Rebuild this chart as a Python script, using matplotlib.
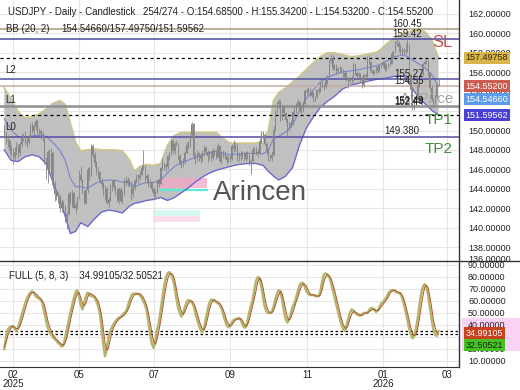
import matplotlib
matplotlib.use("Agg")
import matplotlib.pyplot as plt
from matplotlib.patches import Polygon, Rectangle
from matplotlib.lines import Line2D
from matplotlib.transforms import blended_transform_factory
import numpy as np

plt.rcParams['font.family'] = ['Liberation Sans', 'DejaVu Sans']

# ---------------- data ----------------
opens = [
 150.0, 149.5, 149.0, 148.9, 147.9, 148.0, 147.3, 147.8, 148.2, 147.7,
 148.6, 149.2, 149.3, 148.7, 148.8, 149.3, 150.6, 149.9, 150.5, 151.0,
 149.8, 149.9, 149.6, 149.3, 146.9, 146.1, 147.8, 146.3, 147.7, 144.4,
 143.5, 143.1, 143.2, 142.0, 142.5, 142.2, 140.9, 141.4, 143.5, 142.6,
 143.6, 142.0, 142.3, 143.1, 145.4, 144.9, 143.7, 142.5, 143.9, 145.9,
 145.4, 148.4, 147.5, 146.7, 145.7, 145.7, 144.8, 144.5, 143.7, 144.0,
 142.5, 142.8, 144.3, 144.8, 144.2, 144.0, 142.7, 144.0, 142.7, 143.6,
 144.8, 144.6, 144.9, 144.6, 143.5, 144.1, 144.8, 145.3, 145.1, 145.4,
 146.1, 146.1, 145.0, 145.3, 144.5, 144.6, 144.0, 143.5, 143.8, 144.9,
 144.5, 146.1, 146.6, 146.3, 146.2, 147.4, 147.7, 148.9, 147.9, 148.6,
 148.8, 147.4, 146.6, 146.5, 146.9, 147.7, 148.5, 148.5, 149.5, 150.7,
 147.4, 147.1, 147.7, 147.4, 147.1, 147.7, 148.2, 147.8, 147.4, 147.8,
 147.2, 147.9, 147.7, 147.3, 148.4, 146.9, 147.8, 147.4, 147.4, 147.0,
 147.0, 147.1, 148.4, 148.1, 148.5, 147.4, 147.5, 147.4, 147.5, 147.1,
 147.7, 147.4, 146.5, 146.9, 148.0, 148.0, 147.7, 147.7, 148.9, 149.8,
 149.5, 148.6, 147.9, 147.1, 147.2, 147.5, 150.1, 152.0, 152.7, 153.0,
 151.2, 152.3, 151.8, 151.1, 150.4, 150.6, 150.8, 151.9, 152.0, 152.6,
 152.9, 152.1, 152.1, 152.7, 154.1, 154.0, 154.2, 153.6, 153.9, 153.1,
 153.4, 154.2, 154.1, 155.0, 154.6, 154.5, 155.2, 155.5, 157.2, 157.5,
 156.4, 156.7, 156.1, 156.3, 156.3, 156.2, 155.5, 155.9, 155.3, 155.1,
 155.3, 155.2, 156.9, 155.9, 155.6, 155.8, 155.3, 154.7, 155.7, 155.6,
 157.6, 157.1, 156.1, 155.9, 156.0, 156.5, 156.1, 156.7, 156.7, 157.0,
 156.3, 156.6, 156.8, 156.9, 157.9, 158.1, 159.1, 159.0, 158.6, 158.1,
 158.1, 158.2, 158.3, 158.4, 155.7, 154.2, 152.2, 153.4, 153.1, 154.7,
 155.6, 155.8, 156.9, 157.1, 157.2, 155.9, 154.4, 153.2, 152.7, 153.5,
 154.685]
highs = [
 150.6, 149.9, 149.5, 149.1, 148.5, 148.2, 148.3, 148.8, 148.6, 148.8,
 149.6, 149.7, 150.0, 149.2, 149.5, 150.8, 150.9, 150.7, 151.2, 151.1,
 150.3, 150.2, 150.0, 149.4, 147.3, 148.0, 148.1, 148.2, 147.9, 144.8,
 143.9, 143.8, 143.5, 142.9, 142.7, 142.3, 141.6, 143.7, 143.8, 143.9,
 143.7, 142.6, 143.3, 145.9, 146.3, 145.0, 143.9, 144.0, 146.2, 146.2,
 148.6, 148.6, 147.8, 146.9, 146.2, 145.8, 145.1, 144.7, 144.4, 144.2,
 143.1, 144.5, 144.9, 145.0, 144.4, 144.1, 144.2, 144.2, 143.9, 145.1,
 145.3, 145.2, 145.0, 144.8, 144.5, 145.0, 145.5, 145.5, 145.8, 146.4,
 148.0, 146.4, 145.5, 145.5, 145.0, 144.8, 144.2, 144.0, 145.0, 145.1,
 146.2, 147.2, 146.8, 146.7, 147.5, 147.8, 149.1, 149.1, 148.8, 149.0,
 148.8, 147.6, 147.0, 147.2, 147.9, 148.8, 148.9, 149.6, 150.9, 150.8,
 147.7, 148.0, 147.8, 147.7, 148.0, 148.5, 148.4, 148.0, 147.9, 148.0,
 148.2, 148.1, 148.0, 148.7, 148.5, 147.9, 148.0, 147.9, 147.5, 147.4,
 147.5, 148.6, 149.0, 148.8, 148.6, 147.8, 147.9, 147.9, 147.8, 147.9,
 147.9, 147.6, 147.1, 148.3, 148.3, 148.3, 148.1, 149.2, 149.9, 149.9,
 149.7, 148.8, 148.1, 147.6, 147.9, 150.5, 152.1, 152.9, 153.2, 153.1,
 152.6, 152.6, 151.9, 151.3, 150.9, 151.1, 152.0, 152.4, 152.8, 153.2,
 153.0, 152.5, 153.0, 154.3, 154.4, 154.5, 154.4, 154.1, 154.0, 153.6,
 154.3, 154.5, 155.1, 155.1, 154.8, 155.4, 155.7, 157.3, 157.9, 157.8,
 156.9, 156.9, 156.5, 156.6, 156.5, 156.3, 156.1, 156.0, 155.5, 155.5,
 155.6, 157.0, 157.0, 156.1, 156.0, 155.9, 155.5, 155.8, 155.9, 157.7,
 157.8, 157.2, 156.3, 156.2, 156.6, 156.7, 156.9, 156.9, 157.2, 157.1,
 156.8, 157.0, 157.3, 158.2, 158.2, 159.2, 159.4, 159.2, 158.9, 158.6,
 158.5, 159.0, 159.4, 158.9, 155.9, 154.4, 153.6, 153.8, 154.9, 155.7,
 156.0, 157.0, 157.3, 157.4, 157.3, 156.0, 154.7, 153.5, 153.7, 154.9,
 155.342]
lows = [
 149.2, 148.6, 148.3, 147.6, 147.4, 146.5, 147.0, 147.5, 147.2, 147.4,
 148.3, 148.9, 148.5, 148.2, 148.6, 149.2, 149.7, 149.5, 150.2, 149.6,
 149.5, 149.1, 148.9, 146.5, 145.0, 144.6, 145.9, 145.4, 144.1, 142.7,
 142.8, 142.5, 141.6, 141.6, 141.9, 140.6, 139.9, 141.3, 142.4, 142.1,
 141.9, 141.5, 141.9, 142.9, 144.7, 143.5, 142.4, 142.4, 143.6, 144.9,
 145.3, 147.2, 146.2, 145.4, 145.1, 144.6, 144.1, 143.3, 142.8, 142.4,
 142.1, 142.7, 143.8, 143.9, 143.4, 142.6, 142.4, 142.6, 142.5, 143.4,
 144.3, 144.3, 144.2, 142.8, 143.1, 143.9, 144.6, 144.6, 144.9, 145.3,
 145.9, 144.8, 144.6, 144.2, 144.2, 143.7, 142.9, 143.2, 143.6, 144.2,
 144.4, 145.9, 145.9, 145.8, 146.0, 147.0, 147.5, 147.6, 147.6, 148.4,
 147.1, 146.4, 146.1, 146.2, 146.6, 147.6, 148.1, 148.3, 149.2, 147.1,
 146.6, 146.9, 146.9, 146.7, 146.9, 147.4, 147.6, 146.8, 147.1, 146.9,
 147.0, 147.4, 147.1, 147.2, 146.8, 146.5, 147.2, 147.1, 146.6, 146.8,
 146.8, 147.0, 147.8, 147.9, 146.8, 146.9, 146.9, 147.2, 146.9, 146.9,
 147.1, 146.4, 145.5, 146.8, 147.7, 147.5, 147.3, 147.6, 148.7, 149.1,
 148.5, 147.6, 146.9, 146.9, 146.9, 147.4, 149.9, 151.8, 152.3, 151.0,
 151.1, 151.5, 150.9, 149.4, 149.9, 150.3, 150.6, 151.6, 151.8, 152.4,
 151.9, 151.7, 151.9, 152.5, 153.7, 153.8, 153.4, 153.4, 152.9, 152.9,
 153.3, 153.8, 154.0, 154.4, 154.2, 154.4, 154.8, 155.3, 157.0, 156.2,
 156.2, 155.8, 155.9, 156.0, 155.9, 155.3, 155.4, 155.1, 154.4, 154.9,
 154.9, 155.1, 155.7, 155.4, 155.3, 155.1, 154.4, 154.5, 155.3, 155.5,
 156.9, 155.9, 155.7, 155.8, 155.9, 155.9, 156.0, 156.4, 156.5, 156.1,
 156.1, 156.4, 156.6, 156.8, 157.6, 158.0, 158.7, 158.1, 157.9, 157.8,
 157.9, 157.9, 158.1, 155.6, 153.3, 152.1, 152.1, 152.6, 152.9, 154.5,
 155.2, 155.6, 156.7, 156.8, 155.6, 154.2, 153.0, 152.4, 152.5, 153.3,
 154.532]
closes = [
 149.5, 149.0, 148.9, 147.9, 148.0, 147.3, 147.8, 148.2, 147.7, 148.6,
 149.2, 149.3, 148.7, 148.8, 149.3, 150.6, 149.9, 150.5, 151.0, 149.8,
 149.9, 149.6, 149.3, 146.9, 146.1, 147.8, 146.3, 147.7, 144.4, 143.5,
 143.1, 143.2, 142.0, 142.5, 142.2, 140.9, 141.4, 143.5, 142.6, 143.6,
 142.0, 142.3, 143.1, 145.4, 144.9, 143.7, 142.5, 143.9, 145.9, 145.4,
 148.4, 147.5, 146.7, 145.7, 145.7, 144.8, 144.5, 143.7, 144.0, 142.5,
 142.8, 144.3, 144.8, 144.2, 144.0, 142.7, 144.0, 142.7, 143.6, 144.8,
 144.6, 144.9, 144.6, 143.5, 144.1, 144.8, 145.3, 145.1, 145.4, 146.1,
 146.1, 145.0, 145.3, 144.5, 144.6, 144.0, 143.5, 143.8, 144.9, 144.5,
 146.1, 146.6, 146.3, 146.2, 147.4, 147.7, 148.9, 147.9, 148.6, 148.8,
 147.4, 146.6, 146.5, 146.9, 147.7, 148.5, 148.5, 149.5, 150.7, 147.4,
 147.1, 147.7, 147.4, 147.1, 147.7, 148.2, 147.8, 147.4, 147.8, 147.2,
 147.9, 147.7, 147.3, 148.4, 146.9, 147.8, 147.4, 147.4, 147.0, 147.0,
 147.1, 148.4, 148.1, 148.5, 147.4, 147.5, 147.4, 147.5, 147.1, 147.7,
 147.4, 146.5, 146.9, 148.0, 148.0, 147.7, 147.7, 148.9, 149.8, 149.5,
 148.6, 147.9, 147.1, 147.2, 147.5, 150.1, 152.0, 152.7, 153.0, 151.2,
 152.3, 151.8, 151.1, 150.4, 150.6, 150.8, 151.9, 152.0, 152.6, 152.9,
 152.1, 152.1, 152.7, 154.1, 154.0, 154.2, 153.6, 153.9, 153.1, 153.4,
 154.2, 154.1, 155.0, 154.6, 154.5, 155.2, 155.5, 157.2, 157.5, 156.4,
 156.7, 156.1, 156.3, 156.3, 156.2, 155.5, 155.9, 155.3, 155.1, 155.3,
 155.2, 156.9, 155.9, 155.6, 155.8, 155.3, 154.7, 155.7, 155.6, 157.6,
 157.1, 156.1, 155.9, 156.0, 156.5, 156.1, 156.7, 156.7, 157.0, 156.3,
 156.6, 156.8, 156.9, 157.9, 158.1, 159.1, 159.0, 158.6, 158.1, 158.1,
 158.2, 158.3, 158.4, 155.7, 154.2, 152.2, 153.4, 153.1, 154.7, 155.6,
 155.8, 156.9, 157.1, 157.2, 155.9, 154.4, 153.2, 152.7, 153.5, 154.7,
 154.552]

# Bollinger band edges read at sample bars
band_x = [0, 4, 8, 12, 16, 20, 24, 28, 32, 35, 38, 41, 44, 48, 52, 56, 60, 64, 68, 72,
          75, 78, 82, 86, 90, 94, 98, 102, 106, 110, 114, 118, 122, 126, 130, 135, 140,
          145, 149, 152, 155, 158, 162, 166, 170, 174, 178, 182, 186, 190, 195, 200, 205,
          210, 215, 220, 225, 230, 234, 238, 242, 246, 250]
bb_upper = [154.4, 153.2, 151.9, 151.3, 151.4, 151.7, 152.2, 152.8, 153.1, 152.7, 150.8,
            148.8, 147.9, 148.0, 148.1, 148.0, 148.0, 148.0, 147.9, 147.0, 145.8, 146.3,
            146.5, 146.4, 146.6, 148.5, 149.5, 149.8, 149.8, 149.8, 149.8, 149.8, 149.8,
            149.2, 148.7, 148.7, 148.7, 148.7, 148.8, 150.0, 153.1, 153.9, 154.4, 155.0,
            155.6, 156.3, 157.0, 157.6, 158.0, 158.0, 157.8, 157.6, 157.7, 157.9, 158.1,
            158.9, 159.6, 160.0, 160.2, 160.35, 160.2, 159.4, 157.4975]
bb_lower = [148.0, 146.9, 146.8, 147.3, 147.5, 147.3, 146.6, 144.7, 142.8, 141.2, 139.4,
            139.6, 140.5, 140.1, 140.9, 141.6, 141.8, 141.7, 141.5, 142.2, 142.5, 142.6,
            142.8, 142.9, 143.1, 142.8, 143.1, 143.6, 144.1, 144.7, 145.2, 145.6, 145.9,
            146.1, 146.3, 146.5, 146.6, 146.6, 146.4, 145.8, 145.3, 144.9, 145.3, 146.2,
            148.5, 150.3, 151.4, 152.4, 153.0, 153.5, 154.3, 154.7, 154.9, 155.1, 155.3,
            155.4, 155.6, 155.6, 154.6, 153.5, 152.8, 152.1, 151.59562]

# Full stochastic (5, 8, 3), one reading per bar
stoch_k = [
 20, 30, 36, 38, 39, 39, 37, 35, 38, 43, 48, 53, 58, 62, 65, 67, 68, 67, 64, 63,
 62, 61, 58, 51, 44, 38, 34, 32, 30, 28, 27, 25, 24, 22, 23, 29, 36, 43, 50, 56,
 62, 67, 69, 64, 57, 53, 58, 64, 67, 66, 64, 64, 63, 60, 56, 50, 38, 24, 14, 20,
 30, 35, 38, 41, 43, 45, 46, 47, 48, 50, 51, 55, 60, 64, 66, 66, 66, 66, 65, 63,
 60, 57, 52, 42, 32, 24, 21, 27, 36, 42, 52, 62, 72, 79, 83, 84, 82, 79, 72, 63,
 55, 50, 47, 50, 55, 59, 61, 60, 59, 56, 50, 45, 40, 36, 34, 37, 45, 52, 58, 61,
 61, 60, 59, 58, 57, 54, 49, 44, 40, 38, 40, 42, 44, 45, 45, 46, 45, 41, 38, 38,
 43, 50, 56, 61, 70, 77, 80, 79, 72, 63, 55, 51, 50, 50, 51, 55, 61, 66, 69, 68,
 61, 52, 45, 42, 45, 50, 55, 58, 63, 68, 73, 75, 75, 72, 68, 66, 65, 65, 65, 64,
 64, 64, 68, 76, 82, 83, 82, 80, 76, 70, 64, 58, 52, 46, 41, 37, 35, 39, 45, 50,
 53, 52, 50, 49, 48, 48, 49, 50, 50, 50, 52, 54, 54, 53, 51, 52, 55, 58, 59, 61,
 63, 66, 68, 69, 69, 68, 67, 67, 66, 63, 58, 52, 45, 38, 32, 29, 31, 37, 45, 56,
 66, 72, 74, 72, 65, 55, 45, 37, 32, 31, 34.99105]
stoch_d = [
 22, 25, 31, 35, 38, 39, 38, 37, 37, 39, 43, 48, 53, 58, 62, 65, 67, 67, 66, 65,
 63, 62, 60, 57, 51, 44, 39, 35, 32, 30, 28, 27, 25, 24, 23, 25, 29, 36, 43, 50,
 56, 62, 66, 67, 63, 58, 56, 58, 63, 66, 66, 65, 64, 62, 60, 55, 48, 37, 25, 19,
 21, 28, 34, 38, 41, 43, 45, 46, 47, 48, 50, 52, 55, 60, 63, 65, 66, 66, 66, 65,
 63, 60, 56, 50, 42, 33, 26, 24, 28, 35, 43, 52, 62, 71, 78, 82, 83, 82, 78, 71,
 63, 56, 51, 49, 51, 55, 58, 60, 60, 58, 55, 50, 45, 40, 37, 36, 39, 45, 52, 57,
 60, 61, 60, 59, 58, 56, 53, 49, 44, 41, 39, 40, 42, 44, 45, 45, 45, 44, 41, 39,
 40, 44, 50, 56, 62, 69, 76, 79, 77, 71, 63, 56, 52, 50, 50, 52, 56, 61, 65, 68,
 66, 60, 53, 46, 44, 46, 50, 54, 59, 63, 68, 72, 74, 74, 72, 69, 66, 65, 65, 65,
 64, 64, 65, 69, 76, 80, 82, 81, 79, 75, 70, 64, 58, 52, 46, 41, 38, 37, 40, 45,
 49, 51, 51, 50, 49, 48, 48, 49, 50, 50, 51, 52, 53, 53, 52, 52, 53, 55, 57, 59,
 61, 63, 66, 68, 69, 69, 68, 67, 67, 65, 62, 57, 51, 45, 38, 33, 31, 32, 37, 45,
 55, 64, 71, 73, 71, 64, 55, 45, 38, 34, 32.50521]

levels = [160.45, 159.42, 155.27, 154.55, 152.49, 152.44, 149.38]
level_labels = ['160.45', '159.42', '155.27', '154.55', '152.49', '152.44', '149.380']
bb_last = [154.54660, 157.49758, 151.59562]
stoch_last = [34.99105, 32.50521]

price_ticks = [138, 140, 142, 144, 146, 148, 150, 152, 154, 156, 158, 160, 162]
stoch_ticks = [10, 20, 30, 40, 50, 60, 70, 80, 90]
xtick_pos = [5, 43, 86, 130, 174.5, 218, 254.9]
xtick_labels = ['02\n2025', '05', '07', '09', '11', '01\n2026', '03']

title1 = 'USDJPY - Daily - Candlestick'
title2 = '254/274 - O:154.68500 - H:155.34200 - L:154.53200 - C:154.55200'

# ---------------- figure ----------------
W, H = 520, 390
fig = plt.figure(figsize=(W / 100, H / 100), dpi=100)


def frac(l, t, w, h):
    return [l / W, 1 - (t + h) / H, w / W, h / H]


ax = fig.add_axes(frac(0, 0, 459, 261))
ax2 = fig.add_axes(frac(0, 261, 459, 106), sharex=ax)
XMIN, XMAX = -2.48, 261.8
ax.set_xlim(XMIN, XMAX)
ax.set_ylim(136.56, 163.44)
ax2.set_ylim(5.0, 93.3)

grid_c = '#e6e6e6'
for t in price_ticks:
    ax.axhline(t, color=grid_c, lw=0.8, zorder=0)
for t in stoch_ticks:
    ax2.axhline(t, color=grid_c, lw=0.8, zorder=0)
for t in xtick_pos:
    ax.axvline(t, color=grid_c, lw=0.8, zorder=0)
    ax2.axvline(t, color=grid_c, lw=0.8, zorder=0)

# Bollinger band
pts = list(zip(band_x, bb_upper)) + list(zip(band_x[::-1], bb_lower[::-1]))
ax.add_patch(Polygon(pts, closed=True, fc='#c0c0c0', ec='none', zorder=1))
ax.plot(band_x, bb_upper, color='#cdc688', lw=1.2, zorder=2)
ax.plot(band_x, bb_lower, color='#6a6acc', lw=1.0, zorder=2)
bb_mid = (np.array(bb_upper) + np.array(bb_lower)) / 2
ax.plot(band_x, bb_mid, color='#7686cc', lw=0.8, zorder=2)

# faint ghost labels
ax.add_patch(Rectangle((89.6, 144.1), 27.1, 1.0, fc='#f4a6c6', ec='none', alpha=0.75, zorder=1.5))
ax.plot([89.6, 116.7], [143.9, 143.9], color='#5ee8d8', lw=1.6, zorder=1.5)
ax.add_patch(Rectangle((85.6, 141.2), 27.1, 0.6, fc='#cdf5f0', ec='none', alpha=0.8, zorder=1.5))
ax.add_patch(Rectangle((85.6, 140.6), 27.1, 0.6, fc='#f9d6ea', ec='none', alpha=0.8, zorder=1.5))

# level lines
level_colors = ['#a8987a', '#4a4a9e', '#5252a4', '#c8a8a2', '#8e8e8e', '#8e8e8e', '#5a4aa4']
for lv, c in zip(levels, level_colors):
    ax.axhline(lv, color=c, lw=1.1, zorder=2.2)
for lv in bb_last[1:]:
    ax.axhline(lv, color='black', lw=0.9, ls=(0, (2.5, 2.5)), zorder=2.2)

# text behind candles
ax.text(258.3, 153.24, 'At Price', ha='right', va='center', fontsize=11,
        color='#a4a4a4', zorder=2.5)

# candles
n = len(closes)
xs = np.arange(n)
o = np.array(opens); c = np.array(closes)
bot = np.minimum(o, c)
hgt = np.maximum(np.abs(c - o), 0.06)
candle_c = '#858585'
ax.vlines(xs, lows, highs, color=candle_c, lw=0.6, zorder=3)
ax.bar(xs, hgt, bottom=bot, width=0.55, color=candle_c, lw=0, zorder=3)

# labels on chart
ax.text(232, 160.50, level_labels[0], ha='center', va='bottom', fontsize=7, color='#222', zorder=4)
ax.text(232, 159.47, level_labels[1], ha='center', va='bottom', fontsize=7, color='#222', zorder=4)
ax.text(233, 155.32, level_labels[2], ha='center', va='bottom', fontsize=7, color='#222', zorder=4)
ax.text(233, 154.55, level_labels[3], ha='center', va='bottom', fontsize=7, color='#222', zorder=4)
ax.text(233, 152.53, level_labels[4], ha='center', va='bottom', fontsize=7, color='#222', zorder=4)
ax.text(233, 152.44, level_labels[5], ha='center', va='bottom', fontsize=7, color='#222', zorder=4)
ax.text(229, 149.43, level_labels[6], ha='center', va='bottom', fontsize=7, color='#222', zorder=4)

ax.text(258.3, 159.1, 'SL', ha='right', va='center', fontsize=12, color='#c0504d', zorder=4)
ax.text(258.3, 151.1, 'TP1', ha='right', va='center', fontsize=11, color='#3e8e3a', zorder=4)
ax.text(258.3, 148.1, 'TP2', ha='right', va='center', fontsize=11, color='#3e8e3a', zorder=4)
ax.text(0.8, 156.2, 'L2', ha='left', va='center', fontsize=7, color='#222', zorder=4)
ax.text(0.8, 153.1, 'L1', ha='left', va='center', fontsize=7, color='#222', zorder=4)
ax.text(0.8, 150.4, 'L0', ha='left', va='center', fontsize=7, color='#222', zorder=4)
ax.text(147.2, 143.56, 'Arincen', ha='center', va='center', fontsize=20, color='#555555', zorder=5)

fig.text(8 / W, 1 - 12 / H, title1, fontsize=7, va='center', ha='left', color='#222')
fig.text(143 / W, 1 - 12 / H, title2, fontsize=7, va='center', ha='left', color='#222')
fig.text(6 / W, 1 - 29 / H, 'BB (20, 2)', fontsize=7, va='center', ha='left', color='#222', zorder=1)
fig.text(61 / W, 1 - 29 / H, '%.5f/%.5f/%.5f' % (bb_last[0], 157.49750, bb_last[2]),
         fontsize=7, va='center', ha='left', color='#222', zorder=1)

# stochastic
sx = np.arange(len(stoch_k))
ax2.plot(sx, stoch_k, color='#b4b56a', lw=1.8, zorder=3, solid_joinstyle='round')
ax2.plot(sx, stoch_d, color='#a8552e', lw=0.7, zorder=3.5, solid_joinstyle='round')
for v in stoch_last:
    ax2.axhline(v, color='black', lw=0.9, ls=(0, (2, 2)), zorder=2)
ax2.text(0.02, 0.86, 'FULL (5, 8, 3)    %.5f/%.5f' % tuple(stoch_last), transform=ax2.transAxes,
         fontsize=7, va='center', ha='left', color='#222')

# axes styling
for a in (ax, ax2):
    a.yaxis.tick_right()
    a.spines['left'].set_visible(False)
    a.spines['top'].set_visible(False)
    a.spines['right'].set_color('#333333')
    a.spines['right'].set_linewidth(1.0)
    a.tick_params(axis='y', length=0, pad=6.5, labelsize=6.5, colors='#222')
ax.spines['bottom'].set_visible(False)
ax2.spines['bottom'].set_color('#333333')
ax.set_yticks(price_ticks)
ax.set_yticklabels(['%.5f' % t for t in price_ticks])
ax2.set_yticks(stoch_ticks)
ax2.set_yticklabels(['%.5f' % t for t in stoch_ticks])
ax.tick_params(axis='x', bottom=False, labelbottom=False)
ax2.set_xticks(xtick_pos)
ax2.set_xticklabels(xtick_labels)
ax2.tick_params(axis='x', length=0, pad=2, labelsize=7, colors='#222')
for lbl in ax2.get_xticklabels():
    lbl.set_linespacing(0.95)

# separator line across full width
fig.add_artist(Line2D([0, 1], [1 - 261 / H, 1 - 261 / H], color='#333333', lw=1.0))
fig.text(468 / W, 1 - 260 / H, '136.00000', fontsize=6.5, va='center', ha='left', color='#222')

# pink highlight on lower right axis (behind everything)
fig.add_artist(Rectangle((462 / W, 1 - 351 / H), 58 / W, 33 / H, transform=fig.transFigure,
                         fc='#fad2f4', ec='none', zorder=-1))

# value boxes
tr = blended_transform_factory(ax.transAxes, ax.transData)
tr2 = blended_transform_factory(ax2.transAxes, ax2.transData)
bx = 1 + 6.5 / 459


def box(axis_tr, y, s, fc, tc, a=ax):
    a.text(bx, y, s, transform=axis_tr, fontsize=6.5, va='center', ha='left', color=tc,
           clip_on=False, zorder=10,
           bbox=dict(boxstyle='square,pad=0.18', fc=fc, ec='none'))


box(tr, 157.49758, '157.49758', '#d8b44c', '#332a00')
box(tr, 154.552, '154.55200', '#cd5c50', 'white')
box(tr, 153.24, '154.54660', '#5c9ce8', 'white')
box(tr, 151.59562, '151.59562', '#4a40d4', 'white')
box(tr2, 33.3, '34.99105', '#c8421e', 'white', a=ax2)
box(tr2, 23.3, '32.50521', '#46c024', '#102a08', a=ax2)

fig.savefig('out.png', dpi=100)
